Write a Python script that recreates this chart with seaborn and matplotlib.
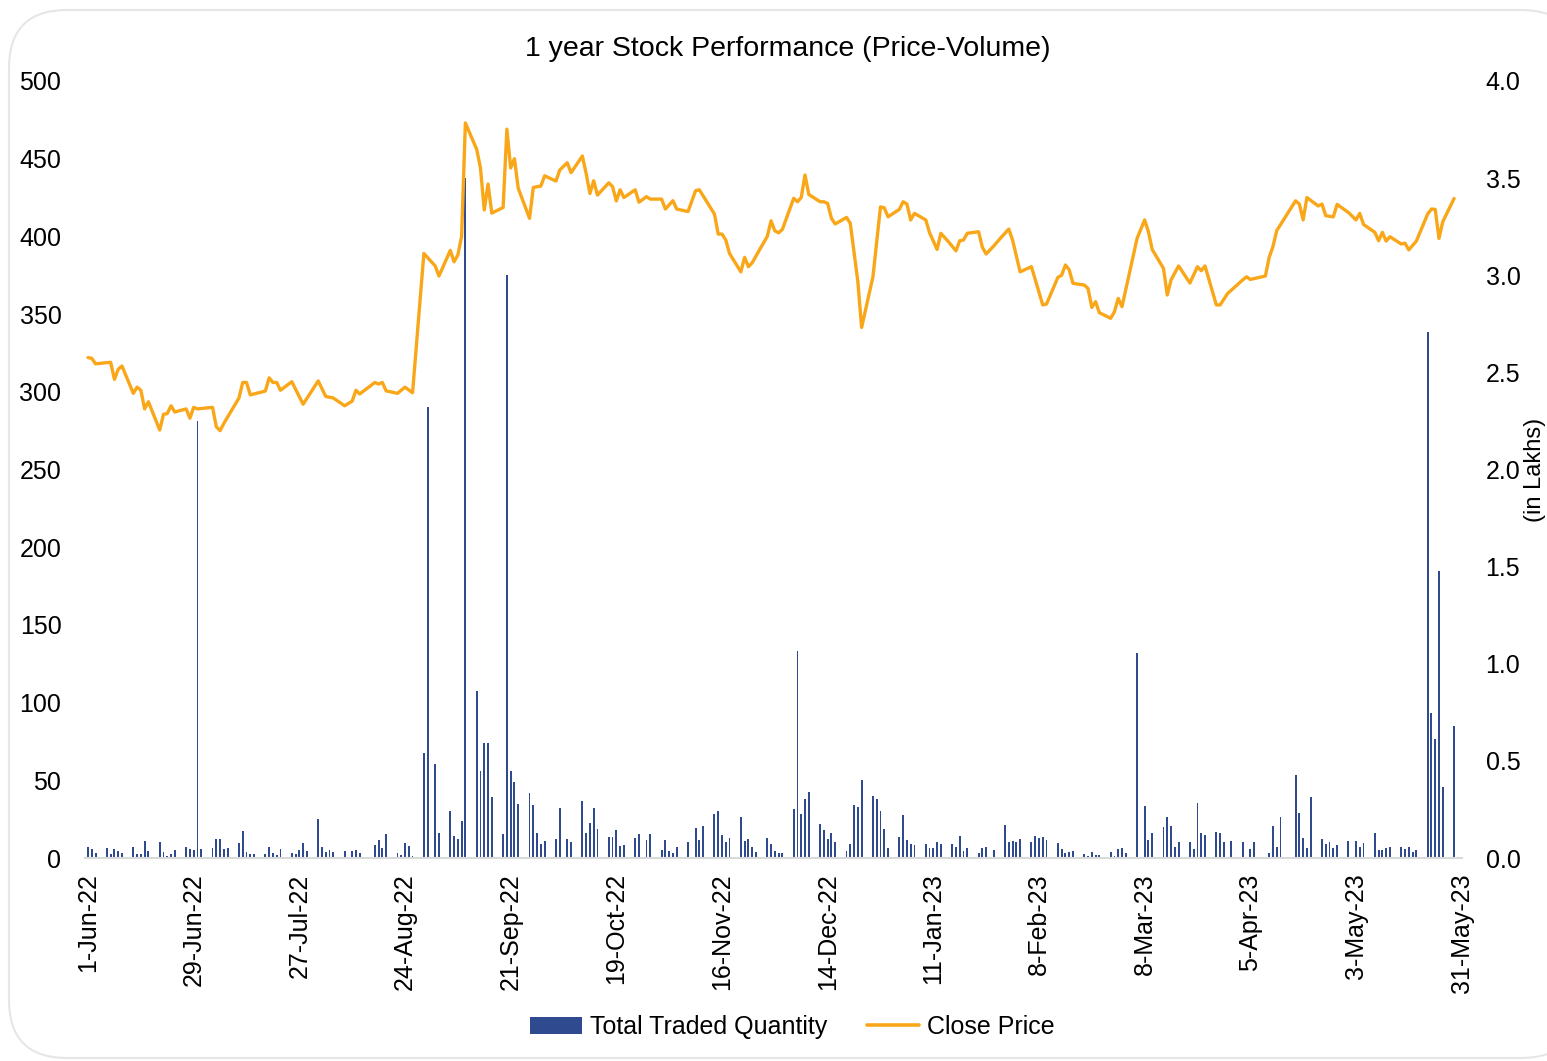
import matplotlib
matplotlib.use("Agg")
import matplotlib.pyplot as plt
from matplotlib.patches import FancyBboxPatch, Patch
from matplotlib.lines import Line2D
import seaborn as sns
import pandas as pd

# Close price (days counted from 1-Jun-22)
price_days = [0, 1, 2, 6, 7, 8, 9, 12, 13, 14, 15, 16, 19, 20, 21, 22, 23, 26, 27, 28, 29,
              33, 34, 35, 36, 40, 41, 42, 43, 47, 48, 49, 50, 51, 54, 57, 61, 63, 65, 68,
              70, 71, 72, 76, 77, 78, 79, 82, 84, 86, 89, 92, 93, 96, 97, 98, 99, 100, 103,
              104, 105, 106, 107, 110, 111, 112, 113, 114, 117, 118, 120, 121, 124, 125,
              127, 128, 131, 132, 133, 134, 135, 138, 139, 140, 141, 142, 145, 146, 148,
              149, 152, 153, 155, 156, 159, 161, 162, 166, 167, 168, 169, 170, 173, 174,
              175, 176, 178, 180, 181, 182, 183, 184, 187, 188, 189, 190, 191, 194, 195,
              196, 197, 198, 201, 202, 204, 205, 208, 210, 211, 212, 215, 216, 217, 218,
              219, 222, 223, 225, 226, 228, 230, 231, 232, 233, 236, 237, 238, 240, 242,
              244, 245, 247, 250, 253, 254, 257, 258, 259, 260, 261, 264, 265, 266, 267,
              268, 271, 272, 273, 274, 278, 280, 281, 282, 285, 286, 287, 289, 292, 294,
              295, 296, 298, 299, 300, 302, 306, 307, 308, 312, 313, 314, 315, 320, 321,
              322, 323, 326, 327, 328, 330, 331, 334, 336, 337, 338, 341, 342, 343, 344,
              345, 348, 349, 350, 352, 355, 356, 357, 358, 359, 362]
price_vals = [322, 321.5, 318, 319, 308, 314.5, 316.6, 299, 303, 301, 289, 293.6, 275.4,
              285.5, 286, 291, 287, 289, 283, 290, 289, 290, 277.5, 275, 279.7, 296, 306,
              306, 298, 300.5, 309, 306, 306, 301, 306.5, 292, 307, 297, 296, 291, 294, 301,
              298.6, 306, 305, 306, 300.6, 299, 303, 299.4, 389, 381, 374.5, 391, 383.7, 388,
              400, 473, 456, 444, 417, 433.7, 415, 418.6, 469, 444, 450, 431, 411.6, 431.5,
              432.4, 439, 435.6, 442.7, 447.4, 441, 451.7, 440.5, 427.6, 435.8, 426.6, 434.5,
              432, 422.8, 430, 425, 430, 422, 425.6, 424, 424, 417.6, 423, 417.6, 416, 429.4,
              430, 414.4, 401.5, 401.5, 397.7, 389, 377.2, 386.5, 380.5, 383, 391.6, 400, 410,
              403.6, 402.3, 404.5, 424.5, 422.3, 425, 439.5, 427, 422.3, 422.3, 421.2, 411.6,
              408, 412.2, 408.4, 371, 341.4, 374, 419, 418.4, 412.6, 417.4, 422.3, 420.8,
              410.6, 414.8, 410.6, 402.4, 391.6, 402, 396.6, 390.7, 397.2, 397.7, 402, 403,
              393, 388.7, 393.8, 399.4, 404.7, 397.7, 377.2, 380.5, 355.9, 356.5, 373.6, 375,
              381.6, 378.6, 369.8, 368.7, 366.5, 354.3, 358, 350.9, 347.3, 351.5, 360.1, 354.8,
              398.7, 410.6, 403, 391.6, 379.4, 362.3, 372, 381, 370, 380.5, 377.9, 381, 364.4,
              355.9, 355.9, 363.3, 372, 374, 372.3, 374.5, 386.5, 393.4, 403.7, 422.9, 420.8,
              410.6, 425, 419.6, 420.8, 413.3, 412.6, 420.6, 415.4, 410.6, 414.8, 407.7, 402.6,
              397.2, 402.6, 397, 399.8, 395.1, 395.6, 391.3, 397, 414.4, 417.6, 417.4, 398.7,
              409.4, 424.4]

# Total traded quantity in lakhs
vol_days = [0, 1, 2, 5, 6, 7, 8, 9, 12, 13, 14, 15, 16, 19, 20, 21, 22, 23, 26, 27, 28, 29,
            30, 33, 34, 35, 36, 37, 40, 41, 42, 43, 44, 47, 48, 49, 50, 51, 54, 55, 56, 57,
            58, 61, 62, 63, 64, 65, 68, 70, 71, 72, 76, 77, 78, 79, 82, 83, 84, 85, 86, 89,
            90, 92, 93, 96, 97, 98, 99, 100, 103, 104, 105, 106, 107, 110, 111, 112, 113,
            114, 117, 118, 119, 120, 121, 124, 125, 127, 128, 131, 132, 133, 134, 135, 138,
            139, 140, 141, 142, 145, 146, 148, 149, 152, 153, 154, 155, 156, 159, 161, 162,
            163, 166, 167, 168, 169, 170, 173, 174, 175, 176, 177, 180, 181, 182, 183, 184,
            187, 188, 189, 190, 191, 194, 195, 196, 197, 198, 201, 202, 203, 204, 205, 208,
            209, 210, 211, 212, 215, 216, 217, 218, 219, 222, 223, 224, 225, 226, 229, 230,
            231, 232, 233, 236, 237, 238, 240, 243, 244, 245, 246, 247, 250, 251, 252, 253,
            254, 257, 258, 259, 260, 261, 264, 265, 266, 267, 268, 271, 272, 273, 274, 275,
            278, 280, 281, 282, 285, 286, 287, 288, 289, 292, 293, 294, 295, 296, 299, 300,
            301, 303, 306, 308, 309, 313, 314, 315, 316, 320, 321, 322, 323, 324, 327, 328,
            329, 330, 331, 334, 336, 337, 338, 341, 342, 343, 344, 345, 348, 349, 350, 351,
            352, 355, 356, 357, 358, 359, 362]
vol_vals = [0.055, 0.045, 0.024, 0.05, 0.02, 0.045, 0.036, 0.024, 0.058, 0.02, 0.019, 0.088,
            0.036, 0.084, 0.029, 0.01, 0.019, 0.041, 0.055, 0.046, 0.043, 2.25, 0.045, 0.053,
            0.098, 0.098, 0.045, 0.05, 0.076, 0.139, 0.029, 0.019, 0.019, 0.019, 0.055, 0.024,
            0.015, 0.046, 0.024, 0.019, 0.041, 0.076, 0.036, 0.199, 0.058, 0.031, 0.041, 0.029,
            0.036, 0.036, 0.041, 0.024, 0.067, 0.093, 0.05, 0.122, 0.024, 0.015, 0.076, 0.062,
            0.01, 0.542, 2.32, 0.484, 0.13, 0.243, 0.113, 0.098, 0.19, 3.50, 0.86, 0.448, 0.59,
            0.594, 0.312, 0.124, 3.0, 0.448, 0.393, 0.276, 0.333, 0.273, 0.127, 0.072, 0.086,
            0.096, 0.256, 0.096, 0.084, 0.293, 0.13, 0.178, 0.256, 0.148, 0.11, 0.106, 0.144,
            0.062, 0.065, 0.101, 0.124, 0.093, 0.122, 0.041, 0.093, 0.038, 0.024, 0.058, 0.081,
            0.156, 0.093, 0.166, 0.226, 0.242, 0.118, 0.081, 0.101, 0.213, 0.088, 0.098, 0.058,
            0.032, 0.104, 0.07, 0.034, 0.027, 0.024, 0.254, 1.067, 0.226, 0.302, 0.338, 0.175,
            0.144, 0.098, 0.127, 0.081, 0.036, 0.072, 0.273, 0.264, 0.401, 0.319, 0.302, 0.242,
            0.149, 0.05, 0.11, 0.221, 0.093, 0.072, 0.067, 0.072, 0.05, 0.05, 0.084, 0.07,
            0.07, 0.055, 0.113, 0.036, 0.05, 0.027, 0.053, 0.058, 0.041, 0.17, 0.081, 0.088,
            0.084, 0.096, 0.081, 0.115, 0.101, 0.108, 0.093, 0.076, 0.045, 0.024, 0.029, 0.036,
            0.019, 0.012, 0.029, 0.015, 0.015, 0.029, 0.01, 0.045, 0.05, 0.027, 1.057, 0.269,
            0.093, 0.127, 0.158, 0.21, 0.165, 0.055, 0.081, 0.081, 0.045, 0.282, 0.13, 0.118,
            0.132, 0.127, 0.084, 0.088, 0.081, 0.046, 0.081, 0.024, 0.165, 0.055, 0.21, 0.427,
            0.23, 0.101, 0.05, 0.312, 0.096, 0.07, 0.084, 0.05, 0.067, 0.089, 0.089, 0.055,
            0.076, 0.127, 0.041, 0.041, 0.053, 0.058, 0.058, 0.046, 0.055, 0.029, 0.041, 2.71,
            0.748, 0.611, 1.48, 0.367, 0.68]

start = pd.Timestamp("2022-06-01")
end = pd.Timestamp("2023-05-31")

price_df = pd.DataFrame({"date": start + pd.to_timedelta(price_days, unit="D"),
                         "price": price_vals})
vol_df = pd.DataFrame({"date": start + pd.to_timedelta(vol_days, unit="D"),
                       "qty": vol_vals})

bar_color = "#2F4A8E"
line_color = "#F9A719"

sns.set_style("white")
plt.rcParams["font.family"] = ["Liberation Sans", "DejaVu Sans"]
plt.rcParams["text.color"] = "black"
plt.rcParams["xtick.color"] = "black"
plt.rcParams["ytick.color"] = "black"

W, H = 1547, 1061
fig = plt.figure(figsize=(W / 100, H / 100), dpi=100)

# rounded frame around the chart (pixel coordinates, right side runs off the image)
frame = FancyBboxPatch((9, 3), 1570, 1048, transform=None,
                       boxstyle="round,pad=0,rounding_size=58",
                       fc="white", ec="#E6E6E6", lw=1.5, zorder=-10)
fig.patches.append(frame)

left, right = 85 / W, 1462 / W
bottom, top = 1 - 858 / H, 1 - 81 / H
ax = fig.add_axes([left, bottom, right - left, top - bottom])
ax2 = ax.twinx()

# volume bars on the secondary axis
ax2.bar(vol_df["date"], vol_df["qty"], width=0.5, color=bar_color, linewidth=0)
# price line on the primary axis
sns.lineplot(data=price_df, x="date", y="price", ax=ax, color=line_color, linewidth=2.4)

ax.set_zorder(ax2.get_zorder() + 1)
ax.patch.set_visible(False)

ax.set_ylim(0, 500)
ax.set_yticks(range(0, 501, 50))
ax2.set_ylim(0, 4.0)
ax2.set_yticks([i * 0.5 for i in range(9)])
ax2.set_yticklabels([f"{i * 0.5:.1f}" for i in range(9)])

ax.set_xlim(start - pd.Timedelta(days=0.8), end + pd.Timedelta(days=0.1))
ticks = pd.date_range(start, end, freq="28D")
ax.set_xticks(ticks)
ax.set_xticklabels([f"{t.day}-{t.strftime('%b-%y')}" for t in ticks], rotation=90,
                   fontsize=18)
ax.set_xlabel("")
ax.set_ylabel("")

for a in (ax, ax2):
    for s in a.spines.values():
        s.set_visible(False)
    a.tick_params(length=0)
ax.spines["bottom"].set_visible(True)
ax.spines["bottom"].set_color("#D9D9D9")
ax.spines["bottom"].set_linewidth(1.5)

ax.tick_params(axis="y", labelsize=18, pad=17)
ax2.tick_params(axis="y", labelsize=18, pad=17)
ax.tick_params(axis="x", pad=11)

fig.text(0.5095, 1 - 49 / H, "1 year Stock Performance (Price-Volume)", ha="center",
         va="center", fontsize=20.5)
fig.text(1535 / W, 1 - 470 / H, "(in Lakhs)", rotation=90, ha="center", va="center",
         fontsize=17)

handles = [Patch(facecolor=bar_color, edgecolor="none"),
           Line2D([0], [0], color=line_color, lw=2.6)]
fig.legend(handles, ["Total Traded Quantity", "Close Price"], loc="center",
           bbox_to_anchor=(792 / W, 1 - 1027 / H), ncol=2, frameon=False, fontsize=18,
           handlelength=2.1, handleheight=0.7, handletextpad=0.3, columnspacing=1.6)

fig.savefig("out.png", dpi=100)
